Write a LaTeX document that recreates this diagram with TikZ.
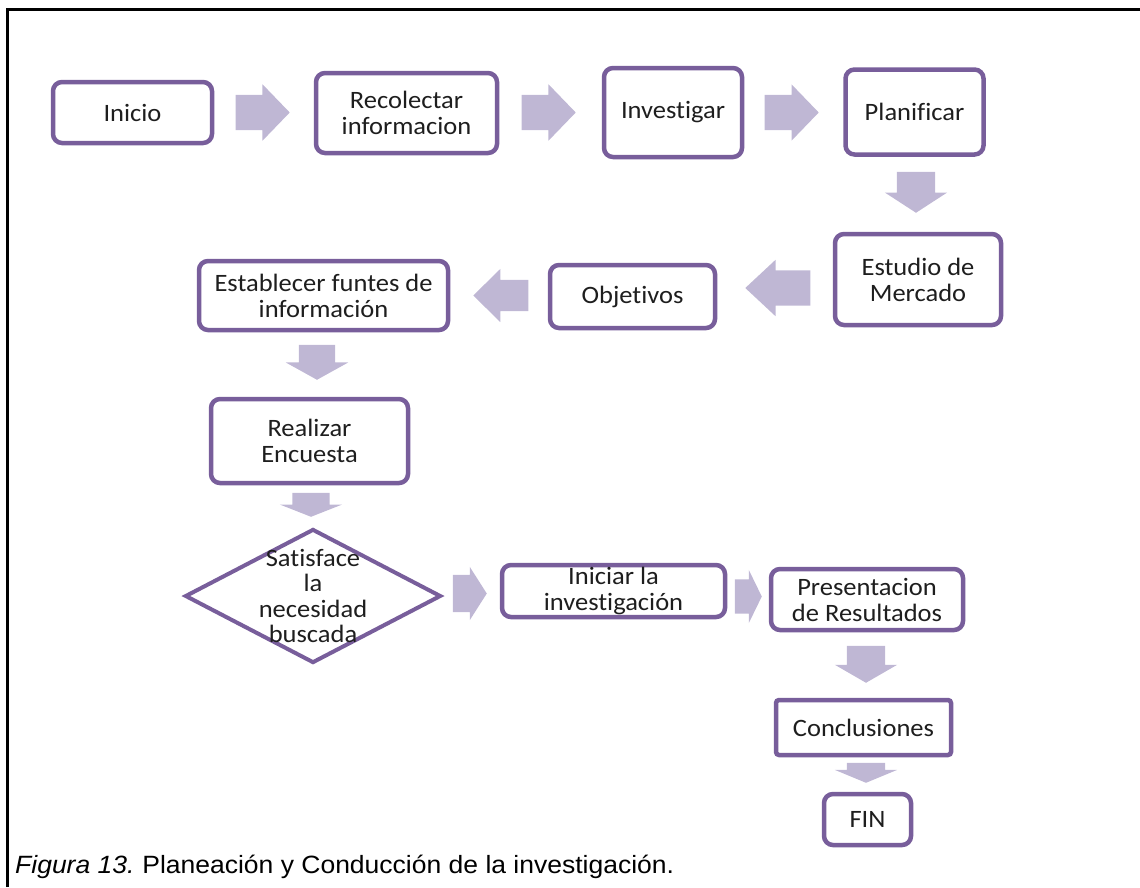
\documentclass[tikz,border=0pt]{standalone}
\usepackage{fontspec}
\usetikzlibrary{shapes.arrows,shapes.geometric}
\newfontfamily\boxfont[FakeStretch=1.06,RawFeature={-liga;-clig;-calt;-dlig}]{Carlito}
\newfontfamily\capfont[FakeStretch=1.06]{Liberation Sans}
\definecolor{boxc}{RGB}{120,94,155}
\definecolor{arrowc}{RGB}{191,183,212}
\definecolor{inkc}{RGB}{30,30,30}
\begin{document}
\begin{tikzpicture}[x=1pt,y=-1pt,
  stepbox/.style={draw=boxc, line width=4.5pt, rounded corners=9pt, fill=white,
    align=center, text=inkc, inner sep=0pt,
    font=\boxfont\fontsize{25}{26}\selectfont},
  barrow/.style={single arrow, fill=arrowc, draw=none, text width=0pt, anchor=tip},
  % horizontal block arrow: length, head width, half shaft, head extend, tip angle, direction
  harr/.style n args={6}{barrow, minimum height=#1, minimum width=#2,
    inner xsep=0pt, inner ysep=#3, single arrow head extend=#4,
    single arrow tip angle=#5, shape border rotate=#6},
  % downward block arrow: length, head width, half shaft, head extend, tip angle
  darr/.style n args={5}{barrow, minimum height=#1, minimum width=#2,
    inner xsep=#3, inner ysep=0pt, single arrow head extend=#4,
    single arrow tip angle=#5, shape border rotate=270},
]
\useasboundingbox (0,0) rectangle (1140,887);

% outer frame
\draw[line width=3pt] (7.5,887) -- (7.5,9) -- (1140,9);

% process boxes
\node[stepbox, minimum width=159, minimum height=61] (inicio) at (132.5,112.5) {Inicio};
\node[stepbox, minimum width=181, minimum height=80] (recol) at (406.5,113) {Recolectar\\informacion};
\node[stepbox, minimum width=138, minimum height=89] (invest) at (673,112.5) {Investigar};
\node[stepbox, minimum width=138, minimum height=85] (planif) at (914.5,112) {Planificar};
\node[stepbox, minimum width=166, minimum height=91] (estudio) at (918,279.5) {Estudio de\\Mercado};
\node[stepbox, minimum width=165, minimum height=63] (objet) at (632.5,296.5) {Objetivos};
\node[stepbox, minimum width=249, minimum height=69] (fuentes) at (323.5,295.5) {Establecer funtes de\\información};
\node[stepbox, minimum width=197, minimum height=84] (encuesta) at (309.5,441) {Realizar\\Encuesta};
\node[diamond, draw=boxc, line width=4pt, inner sep=0pt, minimum width=256, minimum height=134] (decision) at (313,596) {};
\node[align=center, text=inkc, inner sep=0pt, font=\boxfont\fontsize{25}{25.5}\selectfont] (dectext) at (decision.center) {Satisface\\la\\necesidad\\buscada};
\node[stepbox, minimum width=223, minimum height=52] (iniciar) at (613.5,591) {Iniciar la\\investigación};
\node[stepbox, minimum width=192, minimum height=61] (present) at (867,599.5) {Presentacion\\de Resultados};
\node[stepbox, rounded corners=3pt, minimum width=175, minimum height=55] (concl) at (863.5,727.5) {Conclusiones};
\node[stepbox, minimum width=87, minimum height=51] (fin) at (867.5,819.5) {FIN};

% block arrows between the steps, placed by their tips
\node[harr={54}{56}{17.5}{10.5}{92}{0}] (a1) at (290,112.5) {};
\node[harr={54}{56}{17.5}{10.5}{92}{0}] (a2) at (576,112.5) {};
\node[harr={54}{56}{17.5}{10.5}{92}{0}] (a3) at (819,112.5) {};
\node[darr={41}{62}{19}{12}{114}] (a4) at (916,213) {};
\node[harr={65}{56}{17.5}{10.5}{86}{180}] (a5) at (745,288) {};
\node[harr={55}{53}{15.5}{11}{89}{180}] (a6) at (473,295.5) {};
\node[darr={35}{62}{18}{13}{122}] (a7) at (317,380) {};
\node[darr={24}{62}{18.5}{12.5}{137}] (a8) at (311,517) {};
\node[harr={34}{53}{18.5}{8}{115}{0}] (a9) at (487,593.5) {};
\node[harr={27}{53}{17}{9.5}{128}{0}] (a10) at (762,596.5) {};
\node[darr={37}{62}{19}{12}{120}] (a11) at (866,683) {};
\node[darr={20}{62}{19}{12}{135}] (a12) at (866,783) {};

% caption
\node[anchor=base west, inner sep=0pt, font=\capfont\fontsize{25}{30}\selectfont] (caption) at (15,873)
  {\textit{Figura 13.}\hspace{-2pt} Planeación y Conducción de la investigación.};
\end{tikzpicture}
\end{document}
